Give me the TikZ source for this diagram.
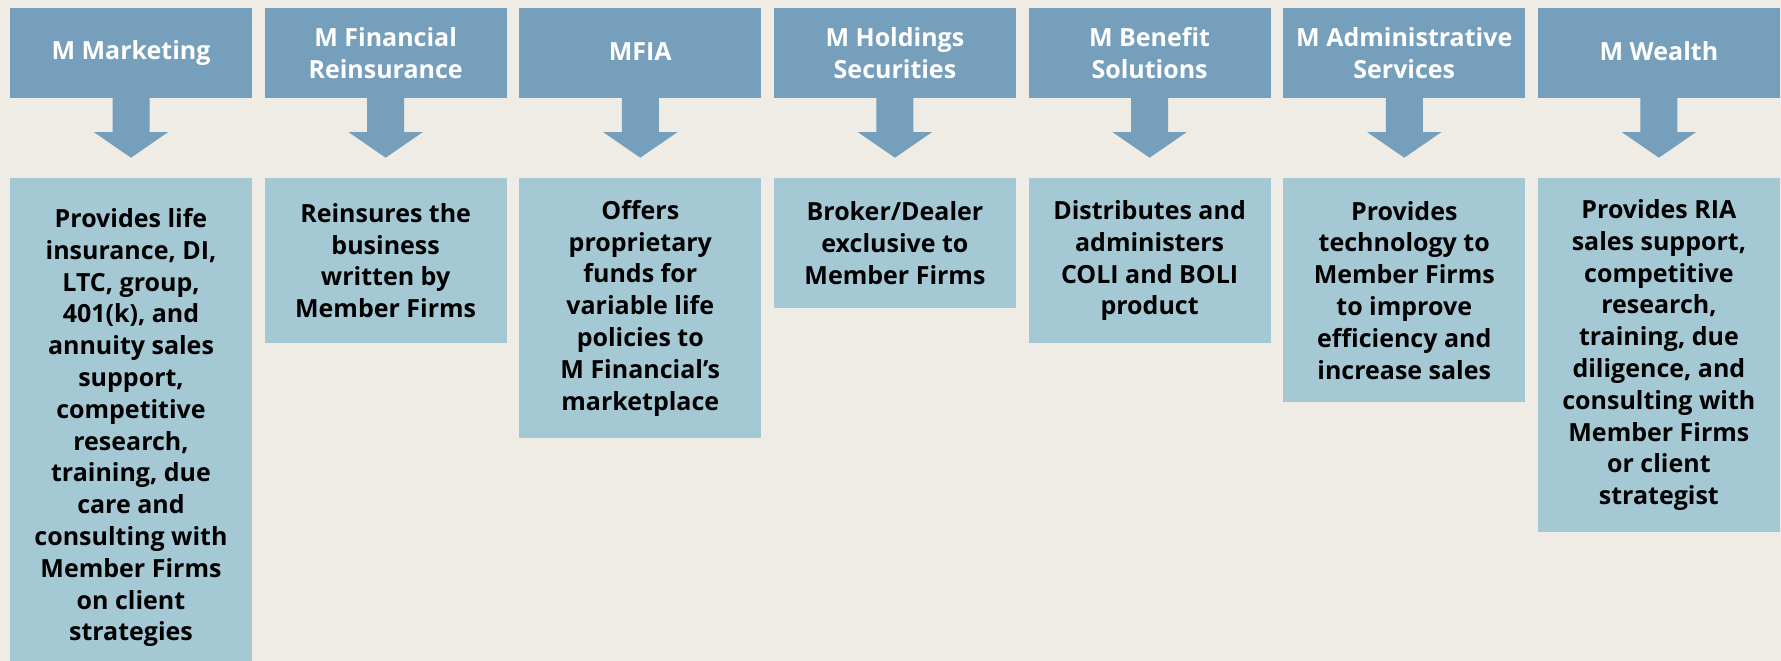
\documentclass[tikz,border=0pt]{standalone}
\usepackage{fontspec}
\setmainfont{Open Sans}
\usetikzlibrary{calc}
\definecolor{pagebg}{HTML}{EFECE5}
\definecolor{headblue}{HTML}{769FBC}
\definecolor{descblue}{HTML}{A4C9D5}
\tikzset{
  head/.style={fill=headblue, minimum width=242pt, minimum height=90pt, inner sep=0pt,
    text=white, align=center, font=\fontsize{25}{31.7}\selectfont\bfseries},
  desc/.style={fill=descblue, anchor=north, minimum width=242pt, inner sep=0pt,
    text=black, align=center, font=\fontsize{25}{31.8}\selectfont\bfseries},
  blockarrow/.style={fill=headblue},
}
\newcommand{\downarrowblock}[1]{%
  \fill[blockarrow] ($(#1.south)+(-18.5,-1)$) -- ($(#1.south)+(-18.5,34)$)
    -- ($(#1.south)+(-37,34)$) -- ($(#1.south)+(0,59.5)$) -- ($(#1.south)+(37,34)$)
    -- ($(#1.south)+(18.5,34)$) -- ($(#1.south)+(18.5,-1)$) -- cycle;}
% single-line titles without descenders sit a little high
\newcommand{\liftline}[1]{\raisebox{3pt}{#1}}
\begin{document}
\begin{tikzpicture}[x=1pt, y=-1pt]
  \fill[pagebg] (0,0) rectangle (1781,661);
  \useasboundingbox (0,0) rectangle (1781,661);

  % header boxes
  \node[head] (h1) at (131,53) {M Marketing};
  \node[head] (h2) at (385.65,53) {M Financial\\Reinsurance};
  \node[head] (h3) at (640.3,53) {\liftline{MFIA}};
  \node[head] (h4) at (894.95,53) {M Holdings\\Securities};
  \node[head] (h5) at (1149.6,53) {M Benefit\\Solutions};
  \node[head] (h6) at (1404.25,53) {M Administrative\\Services};
  \node[head] (h7) at (1658.9,53) {\liftline{M Wealth}};

  % description boxes
  \node[desc, minimum height=499pt] (d1) at (131,178) {Provides life\\insurance, DI,\\LTC, group,\\401(k), and\\annuity sales\\support,\\competitive\\research,\\training, due\\care and\\consulting with\\Member Firms\\on client\\strategies};
  \node[desc, minimum height=165pt] (d2) at (385.65,178) {Reinsures the\\business\\written by\\Member Firms};
  \node[desc, minimum height=260pt] (d3) at (640.3,178) {Offers\\proprietary\\funds for\\variable life\\policies to\\M Financial’s\\marketplace};
  \node[desc, minimum height=130pt] (d4) at (894.95,178) {Broker/Dealer\\exclusive to\\Member Firms};
  \node[desc, minimum height=165pt] (d5) at (1149.6,178) {Distributes and\\administers\\COLI and BOLI\\product};
  \node[desc, minimum height=224pt] (d6) at (1404.25,178) {Provides\\technology to\\Member Firms\\to improve\\efficiency and\\increase sales};
  \node[desc, minimum height=354pt] (d7) at (1658.9,178) {Provides RIA\\sales support,\\competitive\\research,\\training, due\\diligence, and\\consulting with\\Member Firms\\or client\\strategist};

  % block arrows from each header down to its description
  \foreach \h in {h1,h2,h3,h4,h5,h6,h7} {\downarrowblock{\h}}
\end{tikzpicture}
\end{document}
